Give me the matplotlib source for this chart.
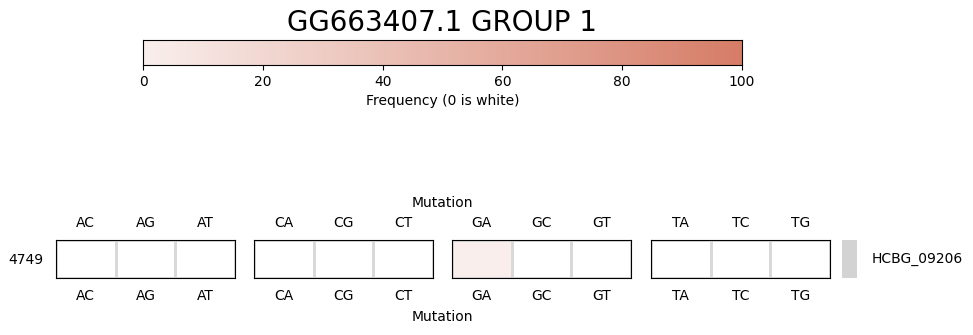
import numpy as np
import matplotlib.pyplot as plt
from matplotlib.colors import LinearSegmentedColormap

# Substitution types, grouped by reference base
groups = [["AC", "AG", "AT"], ["CA", "CG", "CT"], ["GA", "GC", "GT"], ["TA", "TC", "TG"]]
position = "4749"
gene = "HCBG_09206"
title = "GG663407.1 GROUP 1"

# Frequency (%) per substitution at this position
freq_A = [0, 0, 0]
freq_C = [0, 0, 0]
freq_G = [1, 0, 0]
freq_T = [0, 0, 0]
freqs = [freq_A, freq_C, freq_G, freq_T]

cmap = LinearSegmentedColormap.from_list("freq", ["#f9efed", "#d67d67"])
cmap.set_bad("white")

fig = plt.figure(figsize=(9.73, 3.35), dpi=100)
W, H = 973, 335

def ax_px(x0, y0, x1, y1):
    return fig.add_axes([x0 / W, 1 - y1 / H, (x1 - x0) / W, (y1 - y0) / H])

# colourbar along the top
cax = ax_px(143, 40, 742, 65)
grad = np.linspace(0, 100, 256).reshape(1, -1)
cax.imshow(grad, cmap=cmap, aspect="auto", extent=[0, 100, 0, 1], vmin=0, vmax=100)
cax.set_yticks([])
cax.set_xticks([0, 20, 40, 60, 80, 100])
cax.tick_params(labelsize=10)
cax.set_xlabel("Frequency (0 is white)", fontsize=10)
fig.text(442 / W, 1 - 23 / H, title, ha="center", va="center", fontsize=20)

# one small heatmap per reference base
lefts = [56, 254, 452, 651]
for i, (labels, vals) in enumerate(zip(groups, freqs)):
    ax = ax_px(lefts[i], 240, lefts[i] + 179, 278)
    data = np.ma.masked_equal(np.array(vals, dtype=float).reshape(1, -1), 0)
    ax.pcolormesh(data, cmap=cmap, vmin=0, vmax=100, edgecolors="#d9d9d9", linewidth=2)
    ax.set_xlim(0, 3)
    ax.set_ylim(0, 1)
    ticks = np.arange(3) + 0.5
    ax.set_xticks(ticks)
    ax.set_xticklabels(labels)
    ax.tick_params(axis="x", length=0, labelsize=10, pad=8)
    top = ax.secondary_xaxis("top")
    top.set_xticks(ticks)
    top.set_xticklabels(labels)
    top.tick_params(length=0, labelsize=10, pad=7)
    top.spines["top"].set_visible(False)
    if i == 0:
        ax.set_yticks([0.5])
        ax.set_yticklabels([position])
        ax.tick_params(axis="y", length=0, labelsize=10, pad=9)
    else:
        ax.set_yticks([])

# gene marker
gax = ax_px(842, 240, 857, 278)
gax.set_facecolor("lightgray")
gax.set_xticks([])
gax.set_yticks([])
for s in gax.spines.values():
    s.set_visible(False)
fig.text(872 / W, 1 - 259 / H, gene, ha="left", va="center", fontsize=10)

fig.text(442 / W, 1 - 203 / H, "Mutation", ha="center", va="center", fontsize=10)
fig.text(442 / W, 1 - 317 / H, "Mutation", ha="center", va="center", fontsize=10)

fig.savefig("out.png", dpi=100)
